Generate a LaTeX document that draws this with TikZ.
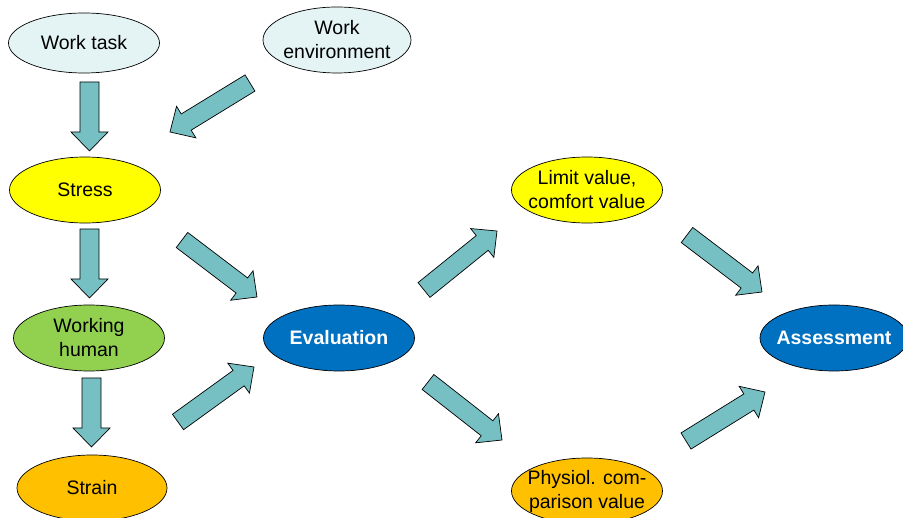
\documentclass[tikz,border=0pt]{standalone}
\usepackage{fontspec}
\setmainfont{Liberation Sans}
\usetikzlibrary{shapes.geometric,calc}
\definecolor{lcyan}{HTML}{E4F4F4}
\definecolor{yel}{HTML}{FFFF00}
\definecolor{grn}{HTML}{92D050}
\definecolor{org}{HTML}{FFC000}
\definecolor{blu}{HTML}{0070C0}
\definecolor{teal2}{HTML}{76C0C4}
\newcommand\blockarr[2]{%
  \coordinate (bah) at ($(#2)!19pt!(#1)$);
  \draw[barr] ($(#1)!9.5pt!90:(#2)$) -- ($(bah)!9.5pt!-90:(#1)$) --
    ($(bah)!18.5pt!-90:(#1)$) -- (#2) -- ($(bah)!18.5pt!90:(#1)$) --
    ($(bah)!9.5pt!90:(#1)$) -- ($(#1)!9.5pt!-90:(#2)$) -- cycle;}
\begin{document}
\begin{tikzpicture}[x=1pt,y=-1pt,
  elli/.style={ellipse,draw=black,line width=0.7pt,minimum width=151pt,minimum height=66pt,
    inner sep=-14pt,align=center,font=\fontsize{19.5}{24}\selectfont},
  bold/.style={font=\fontsize{19.5}{24}\selectfont\bfseries,text=white,fill=blu},
  barr/.style={draw=black,line width=0.7pt,fill=teal2,line join=miter}]
\useasboundingbox (0,0) rectangle (903,518);
\node[elli,fill=lcyan,minimum height=60pt] (wt) at (84,43) {Work task};
\node[elli,fill=lcyan,minimum width=148pt] (we) at (337,40) {Work\\environment};
\node[elli,fill=yel] (st) at (85,190) {Stress};
\node[elli,fill=grn] (wh) at (89,338) {Working\\human};
\node[elli,fill=org,minimum width=150pt,minimum height=66pt] (sn) at (92,488) {Strain};
\node[elli,bold] (ev) at (339,338) {Evaluation};
\node[elli,fill=yel,minimum width=151pt] (lv) at (587,190) {Limit value,\\comfort value};
\node[elli,bold,minimum width=148pt] (as) at (834,338) {Assessment};
\node[elli,fill=org,minimum width=151pt] (pc) at (587,491) {Physiol. com-\\parison value};
\coordinate (a1t) at (89.5,82);  \coordinate (a1h) at (89.5,151);
\coordinate (a2t) at (250,83);   \coordinate (a2h) at (170,132);
\coordinate (a3t) at (89.5,229); \coordinate (a3h) at (89.5,298);
\coordinate (a4t) at (91.5,378); \coordinate (a4h) at (91.5,447);
\coordinate (a5t) at (182,240);  \coordinate (a5h) at (257,297);
\coordinate (a6t) at (178,422);  \coordinate (a6h) at (254,367);
\coordinate (a7t) at (424,290);  \coordinate (a7h) at (497,231);
\coordinate (a8t) at (428,382);  \coordinate (a8h) at (502,440);
\coordinate (a9t) at (687,235);  \coordinate (a9h) at (762,292);
\coordinate (a10t) at (686,441); \coordinate (a10h) at (765,392);
\blockarr{a1t}{a1h}
\blockarr{a2t}{a2h}
\blockarr{a3t}{a3h}
\blockarr{a4t}{a4h}
\blockarr{a5t}{a5h}
\blockarr{a6t}{a6h}
\blockarr{a7t}{a7h}
\blockarr{a8t}{a8h}
\blockarr{a9t}{a9h}
\blockarr{a10t}{a10h}
\end{tikzpicture}
\end{document}
